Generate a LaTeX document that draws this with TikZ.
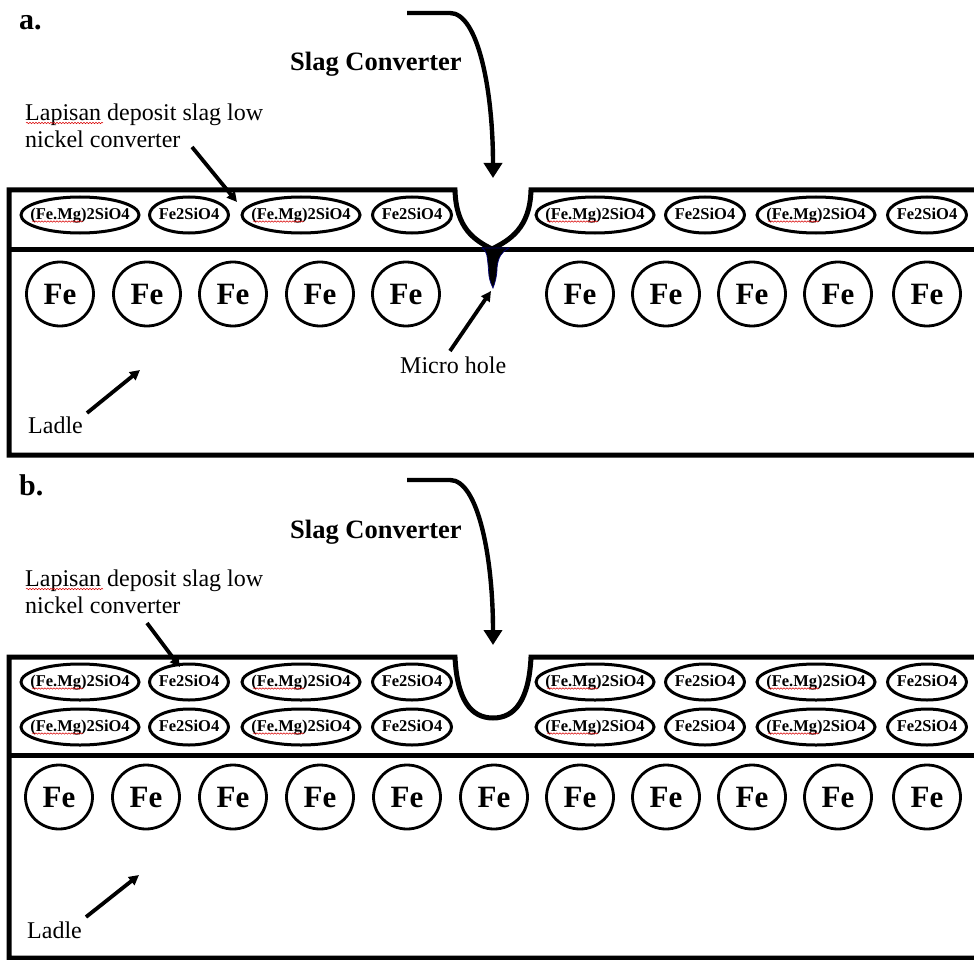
\documentclass[tikz,border=0pt]{standalone}
\usepackage{fontspec}
\setmainfont{Liberation Serif}
\usetikzlibrary{shapes.geometric,arrows.meta,decorations.pathmorphing,calc}
\newcommand{\zw}[1]{\makebox[0pt]{#1}}
\begin{document}
\begin{tikzpicture}[x=1pt,y=-1pt,
 boxline/.style={line width=5pt, line join=miter},
 mineral/.style={ellipse, draw, line width=3pt, minimum height=36pt, inner sep=0pt, text height=11pt, text depth=3pt, font=\fontsize{16.5}{16.5}\selectfont\bfseries},
 mwide/.style={mineral, minimum width=118pt},
 mnarrow/.style={mineral, minimum width=79pt},
 feball/.style={ellipse, draw, line width=2.8pt, minimum width=67pt, minimum height=64pt, inner sep=0pt, text height=21pt, text depth=0pt, font=\fontsize{31}{31}\selectfont\bfseries},
 txtlbl/.style={font=\fontsize{24}{27}\selectfont, inner sep=0pt},
 ttl/.style={font=\fontsize{26.5}{26.5}\selectfont\bfseries, inner sep=0pt},
 paneltag/.style={font=\fontsize{30}{30}\selectfont\bfseries, inner sep=0pt},
 bigarrow/.style={line width=4.4pt, -{Triangle[length=15pt,width=18pt]}},
 smallarrow/.style={line width=3.8pt, -{Triangle[length=10pt,width=10pt]}},
 wavy/.style={draw=red!85!black, line width=0.5pt, decorate, decoration={snake, amplitude=0.7pt, segment length=3pt}},
]
\useasboundingbox (0,0) rectangle (974,960);
\fill[white] (0,0) rectangle (974,960);

% ================= Panel a =================
\node[paneltag, anchor=base west] (atag) at (19,30) {a.};
\node[ttl, anchor=base west] (aslag) at (290,71) {Slag Converter};
\node[txtlbl, align=left, anchor=north west] (alap) at (25,104) {Lapisan deposit slag low\\nickel converter};
\draw[wavy] ($(alap.north west)+(1,19)$) -- ($(alap.north west)+(78,19)$);

% frame
\draw[boxline] (980,190) -- (531,190)
  .. controls (530,228) and (510,240) .. (492,249)
  .. controls (474,240) and (456,228) .. (455,190)
  -- (9,190) -- (9,455) -- (980,455);
\draw[boxline] (9,249) -- (980,249);

% micro hole
\filldraw[fill=black, draw=blue!45!black, line width=0.7pt]
  (482,248) .. controls (488,252) and (487,258) .. (488,264)
  -- (489,276) .. controls (490,282) and (492,286) .. (493,288)
  .. controls (495,283) and (497,276) .. (497,268)
  .. controls (498,258) and (501,252) .. (509,248) -- cycle;

% minerals
\node[mwide]   (am1) at (80,215)  {\zw{(Fe.Mg)2SiO4}};
\node[mnarrow] (am2) at (189,215) {\zw{Fe2SiO4}};
\node[mwide]   (am3) at (301,215) {\zw{(Fe.Mg)2SiO4}};
\node[mnarrow] (am4) at (412,215) {\zw{Fe2SiO4}};
\node[mwide]   (am5) at (595,215) {\zw{(Fe.Mg)2SiO4}};
\node[mnarrow] (am6) at (705,215) {\zw{Fe2SiO4}};
\node[mwide]   (am7) at (816,215) {\zw{(Fe.Mg)2SiO4}};
\node[mnarrow] (am8) at (927,215) {\zw{Fe2SiO4}};
\foreach \m in {am1,am3,am5,am7}
  \draw[wavy] ($(\m)+(-48,6.5)$) -- ($(\m)+(3,6.5)$);

% Fe
\foreach \x [count=\i] in {60,147,233,320,406,580,666,752,838,927}
  \node[feball] (afe\i) at (\x,294) {Fe};

% arrows and labels
\coordinate (aslagS) at (407,13);
\coordinate (aslagC) at (450,13);
\coordinate (aslagT) at (493,178);
\draw[bigarrow] (aslagS) -- (aslagC) .. controls (478,13) and (493,90) .. (aslagT);

\coordinate (alapS) at (192,147);
\coordinate (alapT) at (237,202);
\draw[smallarrow] (alapS) -- (alapT);

\node[txtlbl, anchor=base west] (amicro) at (400,373) {Micro hole};
\coordinate (amicroS) at (450,351);
\coordinate (amicroT) at (491,291);
\draw[smallarrow] (amicroS) -- (amicroT);

\node[txtlbl, anchor=base west] (aladle) at (28,433) {Ladle};
\coordinate (aladleS) at (87,413);
\coordinate (aladleT) at (140,370);
\draw[smallarrow] (aladleS) -- (aladleT);

% ================= Panel b =================
\node[paneltag, anchor=base west] (btag) at (19,495) {b.};
\node[ttl, anchor=base west] (bslag) at (290,538) {Slag Converter};
\node[txtlbl, align=left, anchor=north west] (blap) at (25,570) {Lapisan deposit slag low\\nickel converter};
\draw[wavy] ($(blap.north west)+(1,19)$) -- ($(blap.north west)+(78,19)$);

\draw[boxline] (980,657) -- (531,657)
  .. controls (529,700) and (515,718) .. (493,718)
  .. controls (471,718) and (457,700) .. (455,657)
  -- (9,657) -- (9,958) -- (980,958);
\draw[boxline] (9,755) -- (980,755);

\foreach \y/\r in {682/1,727/2}{
  \node[mwide]   (bm\r a) at (80,\y)  {\zw{(Fe.Mg)2SiO4}};
  \node[mnarrow] (bm\r b) at (189,\y) {\zw{Fe2SiO4}};
  \node[mwide]   (bm\r c) at (301,\y) {\zw{(Fe.Mg)2SiO4}};
  \node[mnarrow] (bm\r d) at (412,\y) {\zw{Fe2SiO4}};
  \node[mwide]   (bm\r e) at (595,\y) {\zw{(Fe.Mg)2SiO4}};
  \node[mnarrow] (bm\r f) at (705,\y) {\zw{Fe2SiO4}};
  \node[mwide]   (bm\r g) at (816,\y) {\zw{(Fe.Mg)2SiO4}};
  \node[mnarrow] (bm\r h) at (927,\y) {\zw{Fe2SiO4}};
  \foreach \m in {a,c,e,g}
    \draw[wavy] ($(bm\r\m)+(-48,6.5)$) -- ($(bm\r\m)+(3,6.5)$);
}

\foreach \x [count=\i] in {59,146,233,320,407,494,580,666,752,838,927}
  \node[feball] (bfe\i) at (\x,797) {Fe};

\coordinate (bslagS) at (407,480);
\coordinate (bslagC) at (450,480);
\coordinate (bslagT) at (493,645);
\draw[bigarrow] (bslagS) -- (bslagC) .. controls (478,480) and (493,557) .. (bslagT);

\coordinate (blapS) at (147,623);
\coordinate (blapT) at (180,667);
\draw[smallarrow] (blapS) -- (blapT);

\node[txtlbl, anchor=base west] (bladle) at (27,938) {Ladle};
\coordinate (bladleS) at (86,917);
\coordinate (bladleT) at (139,875);
\draw[smallarrow] (bladleS) -- (bladleT);
\end{tikzpicture}
\end{document}
